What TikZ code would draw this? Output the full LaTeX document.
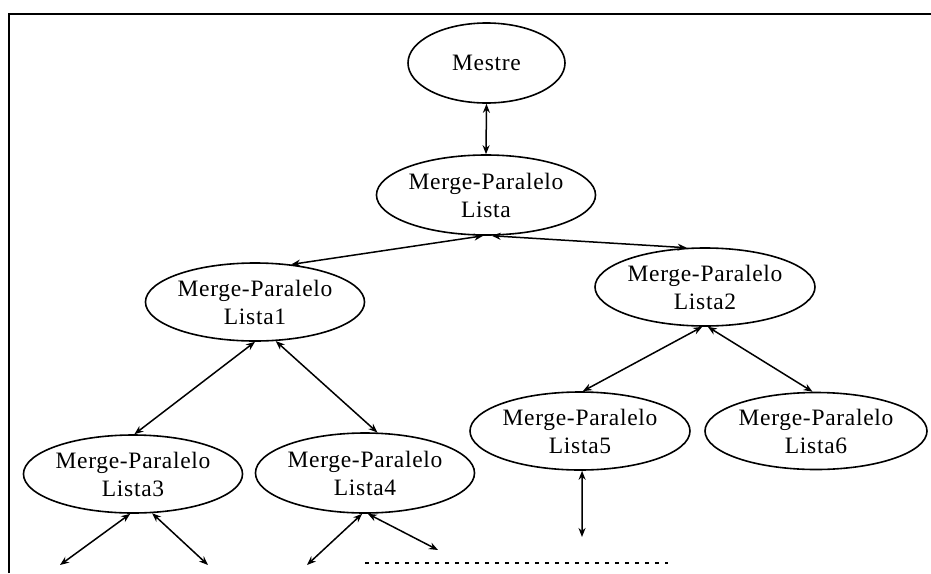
\documentclass[tikz,border=0pt]{standalone}
\usepackage{fontspec}
\setmainfont{Liberation Serif}
\newfontfamily\labelfont[LetterSpace=3]{Liberation Serif}
\usetikzlibrary{shapes.geometric,arrows.meta}
\begin{document}
\begin{tikzpicture}[x=1pt,y=-1pt,
  proc/.style={ellipse,draw,line width=1.6pt,inner sep=0pt,align=center,
    minimum width=217pt,minimum height=79pt,
    font=\labelfont\fontsize{23.5}{28}\selectfont},
  link/.style={line width=1.5pt,{Stealth[length=9pt,width=7pt]}-{Stealth[length=9pt,width=7pt]}},
  frame/.style={line width=2pt}]
\useasboundingbox (0,0) rectangle (931,573);

% open frame: top and left edges
\draw[frame] (9,573) -- (9,13.5) -- (931,13.5);

% process nodes
\node[proc,minimum width=157pt,minimum height=80pt] (mestre) at (486.5,63) {Mestre};
\node[proc,minimum height=80pt] (lista) at (486,195) {Merge-Paralelo\\Lista};
\node[proc,minimum width=216pt,minimum height=78pt] (l1) at (255,302) {Merge-Paralelo\\Lista1};
\node[proc,minimum width=220pt,minimum height=78pt] (l2) at (705,287) {Merge-Paralelo\\Lista2};
\node[proc,minimum height=78pt] (l3) at (133,474) {Merge-Paralelo\\Lista3};
\node[proc,minimum width=216pt,minimum height=80pt] (l4) at (365,473) {Merge-Paralelo\\Lista4};
\node[proc,minimum width=220pt,minimum height=78pt] (l5) at (580,431) {Merge-Paralelo\\Lista5};
\node[proc,minimum width=222pt,minimum height=77pt] (l6) at (816,431) {Merge-Paralelo\\Lista6};

% free ends of the lowest links
\coordinate (e5) at (582,537);
\coordinate (e3a) at (60,565);
\coordinate (e3b) at (208,565);
\coordinate (e4a) at (307,565);
\coordinate (e4b) at (438,550);
\coordinate (da) at (365,563);
\coordinate (db) at (668,563);

% links
\draw[link] (mestre.south) -- (lista.north);
\draw[link] (lista.-94) -- (l1.46);
\draw[link] (lista.-82) -- (l2.115);
\draw[link] (l1.-90) -- (l3.88);
\draw[link] (l1.-62) -- (l4.73);
\draw[link] (l2.-94) -- (l5.86);
\draw[link] (l2.-86) -- (l6.95);
\draw[link] (l5.-87) -- (e5);
\draw[link] (l3.-94) -- (e3a);
\draw[link] (l3.-64) -- (e3b);
\draw[link] (l4.-94) -- (e4a);
\draw[link] (l4.-86) -- (e4b);

% continuation marks
\draw[line width=1.6pt,dash pattern=on 4pt off 6pt] (da) -- (db);
\end{tikzpicture}
\end{document}
